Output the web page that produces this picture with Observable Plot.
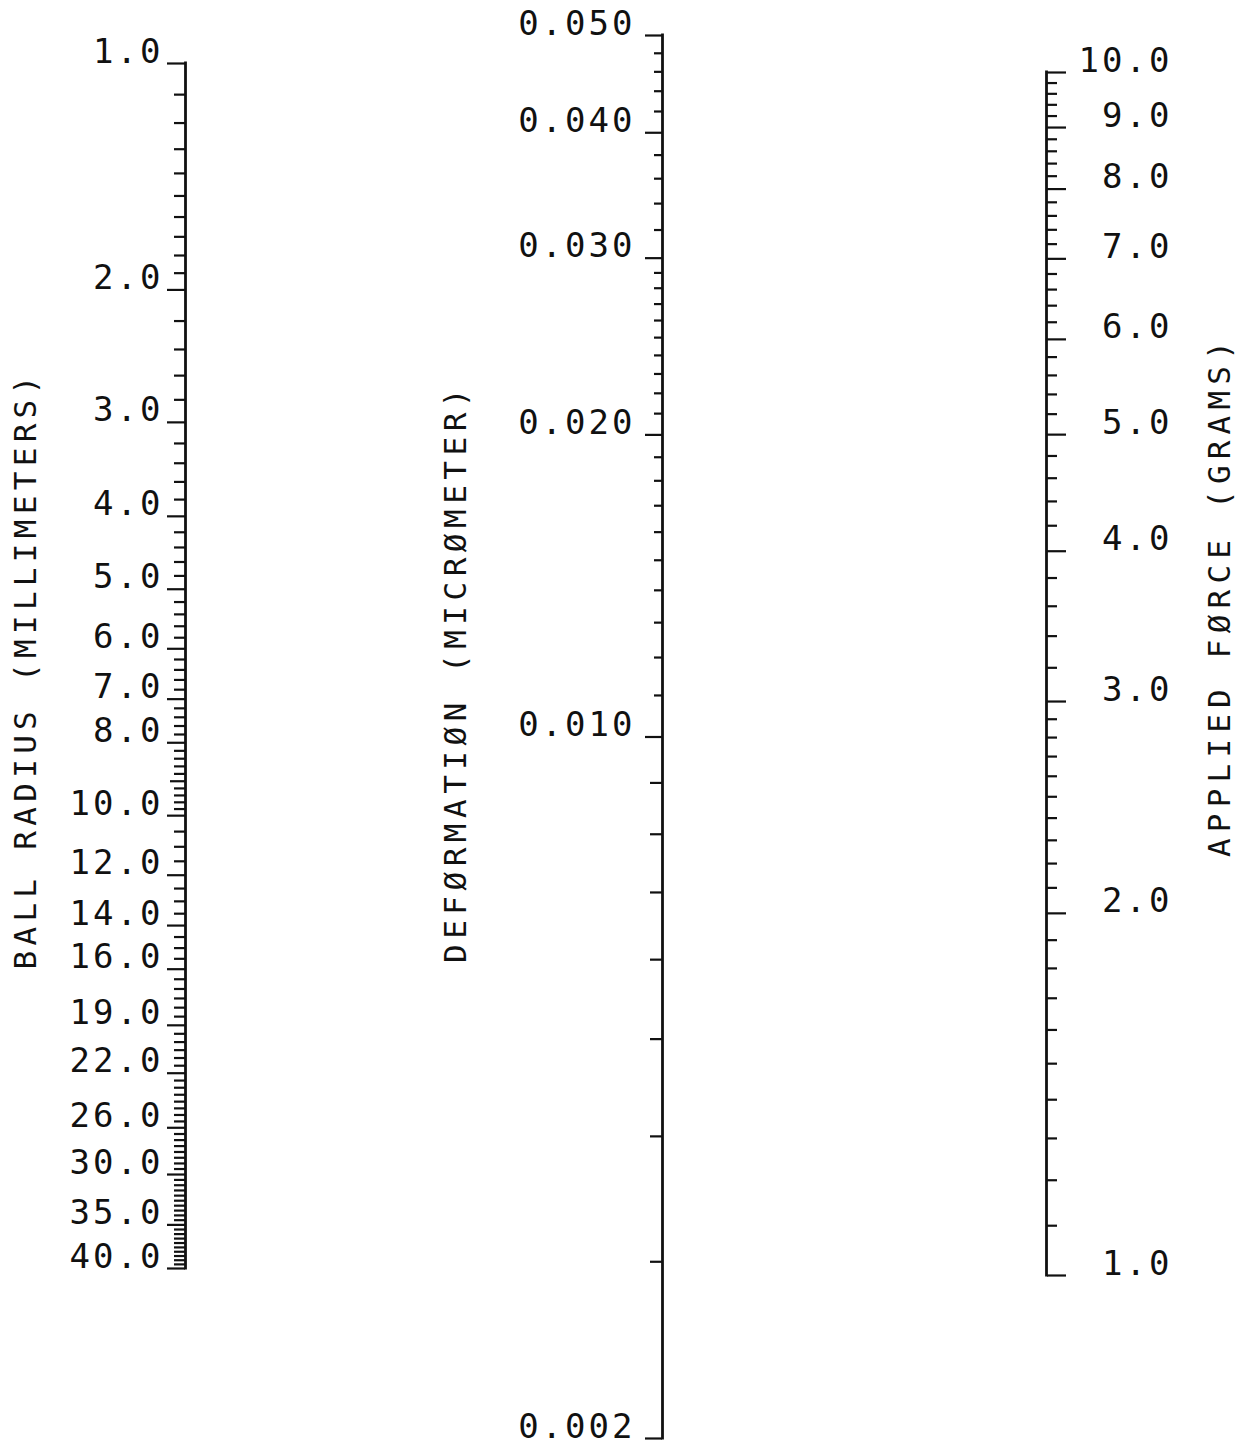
<!DOCTYPE html>
<html><head><meta charset="utf-8">
<script src="https://cdn.jsdelivr.net/npm/d3@7"></script>
<script src="https://cdn.jsdelivr.net/npm/@observablehq/plot@0.6"></script>
<style>
html,body{margin:0;padding:0;background:#fff;}
#chart{position:relative;width:1242px;height:1445px;overflow:hidden;background:#fff;}
#chart svg{position:absolute;left:0;top:0;background:transparent !important;max-width:none !important;overflow:visible;}
</style></head><body><div id="chart"></div>
<script>
// ---- Ball radius scale (millimeters) ----
const radiusExtent = [1, 40];
const radiusLabels = [1, 2, 3, 4, 5, 6, 7, 8, 10, 12, 14, 16, 19, 22, 26, 30, 35, 40];
const radiusMid = [9];
const radiusMinor = [
  1.1, 1.2, 1.3, 1.4, 1.5, 1.6, 1.7, 1.8, 1.9,
  2.2, 2.4, 2.6, 2.8, 3.2, 3.4, 3.6, 3.8, 4.2, 4.4, 4.6, 4.8,
  5.2, 5.4, 5.6, 5.8, 6.2, 6.4, 6.6, 6.8, 7.2, 7.4, 7.6, 7.8,
  8.2, 8.4, 8.6, 8.8, 9.2, 9.4, 9.6, 9.8,
  10.5, 11, 11.5, 12.5, 13, 13.5, 14.5, 15, 15.5,
  16.5, 17, 17.5, 18, 18.5, 19.5, 20, 20.5, 21, 21.5,
  22.5, 23, 23.5, 24, 24.5, 25, 25.5, 26.5, 27, 27.5, 28, 28.5, 29, 29.5,
  30.5, 31, 31.5, 32, 32.5, 33, 33.5, 34, 34.5,
  35.5, 36, 36.5, 37, 37.5, 38, 38.5, 39, 39.5
];

// ---- Deformation scale (micrometer) ----
const deformExtent = [0.002, 0.05];
const deformLabels = [0.05, 0.04, 0.03, 0.02, 0.01, 0.002];
const deformMid = [0.009, 0.008, 0.007, 0.006, 0.005, 0.004, 0.003];
const deformMinor = [
  0.048, 0.046, 0.044, 0.042, 0.038, 0.036, 0.034, 0.032,
  0.029, 0.028, 0.027, 0.026, 0.025, 0.024, 0.023, 0.022, 0.021,
  0.019, 0.018, 0.017, 0.016, 0.015, 0.014, 0.013, 0.012, 0.011
];

// ---- Applied force scale (grams) ----
const forceExtent = [1, 10];
const forceLabels = [10, 9, 8, 7, 6, 5, 4, 3, 2, 1];
const forceMinor = [
  9.8, 9.6, 9.4, 9.2, 8.8, 8.6, 8.4, 8.2, 7.8, 7.6, 7.4, 7.2,
  6.8, 6.6, 6.4, 6.2, 5.8, 5.6, 5.4, 5.2, 4.8, 4.6, 4.4, 4.2,
  3.8, 3.6, 3.4, 3.2,
  2.9, 2.8, 2.7, 2.6, 2.5, 2.4, 2.3, 2.2, 2.1,
  1.9, 1.8, 1.7, 1.6, 1.5, 1.4, 1.3, 1.2, 1.1
];

const titles = {
  radius: "BALL RADIUS (MILLIMETERS)",
  deform: "DEFØRMATIØN (MICRØMETER)",
  force: "APPLIED FØRCE (GRAMS)"
};

const W = 1242, H = 1445;
const FONT = "DejaVu Sans Mono";
const AX = 2.8, TK = 2.2;
const LBL = 34, TTL = 31;
const noText = () => "";

const svgStyle = {background: "transparent", fontFamily: FONT, color: "#111"};

// Left: ball radius
const leftPlot = Plot.plot({
  width: W, height: H,
  marginLeft: 185, marginRight: 1000, marginTop: 63, marginBottom: H - 1268,
  style: svgStyle,
  x: {domain: [0, 1], axis: null},
  y: {type: "log", domain: radiusExtent, reverse: true},
  marks: [
    Plot.ruleX([0], {y1: radiusExtent[0], y2: radiusExtent[1], strokeWidth: AX, strokeLinecap: "square"}),
    Plot.axisY({ticks: radiusMinor, anchor: "left", tickSize: 11, strokeWidth: TK, fill: "none", tickFormat: noText, label: null}),
    Plot.axisY({ticks: radiusMid, anchor: "left", tickSize: 15, strokeWidth: TK, fill: "none", tickFormat: noText, label: null}),
    Plot.axisY({ticks: radiusLabels, anchor: "left", tickSize: 18, strokeWidth: TK, fill: "none", tickFormat: noText, label: null}),
    Plot.text(radiusLabels, {y: d => d, text: d => d.toFixed(1), frameAnchor: "left", textAnchor: "end", lineAnchor: "bottom", dx: -22, dy: -1, fontSize: LBL, fontFamily: FONT, fill: "#111"}),
    Plot.text([titles.radius], {frameAnchor: "left", rotate: -90, textAnchor: "middle", lineAnchor: "middle", dx: -159, dy: 4, fontSize: TTL, fontFamily: FONT, fill: "#111"})
  ]
});

// Middle: deformation
const midPlot = Plot.plot({
  width: W, height: H,
  marginLeft: 662, marginRight: 500, marginTop: 35, marginBottom: H - 1438,
  style: svgStyle,
  x: {domain: [0, 1], axis: null},
  y: {type: "log", domain: deformExtent},
  marks: [
    Plot.ruleX([0], {y1: deformExtent[0], y2: deformExtent[1], strokeWidth: AX, strokeLinecap: "square"}),
    Plot.axisY({ticks: deformMinor, anchor: "left", tickSize: 8, strokeWidth: TK, fill: "none", tickFormat: noText, label: null}),
    Plot.axisY({ticks: deformMid, anchor: "left", tickSize: 12, strokeWidth: TK, fill: "none", tickFormat: noText, label: null}),
    Plot.axisY({ticks: deformLabels, anchor: "left", tickSize: 17, strokeWidth: TK, fill: "none", tickFormat: noText, label: null}),
    Plot.text(deformLabels, {y: d => d, text: d => d.toFixed(3), frameAnchor: "left", textAnchor: "end", lineAnchor: "bottom", dx: -27, dy: -1, fontSize: LBL, fontFamily: FONT, fill: "#111"}),
    Plot.text([titles.deform], {frameAnchor: "left", rotate: -90, textAnchor: "middle", lineAnchor: "middle", dx: -206, dy: -64, fontSize: TTL, fontFamily: FONT, fill: "#111"})
  ]
});

// Right: applied force
const rightPlot = Plot.plot({
  width: W, height: H,
  marginLeft: 900, marginRight: W - 1046, marginTop: 72, marginBottom: H - 1275,
  style: svgStyle,
  x: {domain: [0, 1], axis: null},
  y: {type: "log", domain: forceExtent},
  marks: [
    Plot.ruleX([1], {y1: forceExtent[0], y2: forceExtent[1], strokeWidth: AX, strokeLinecap: "square"}),
    Plot.axisY({ticks: forceMinor, anchor: "right", tickSize: 10, strokeWidth: TK, fill: "none", tickFormat: noText, label: null}),
    Plot.axisY({ticks: forceLabels, anchor: "right", tickSize: 19, strokeWidth: TK, fill: "none", tickFormat: noText, label: null}),
    Plot.text(forceLabels, {y: d => d, text: d => d.toFixed(1), frameAnchor: "right", textAnchor: "end", lineAnchor: "bottom", dx: 126, dy: -1, fontSize: LBL, fontFamily: FONT, fill: "#111"}),
    Plot.text([titles.force], {frameAnchor: "right", rotate: -90, textAnchor: "middle", lineAnchor: "middle", dx: 174, dy: -78, fontSize: TTL, fontFamily: FONT, fill: "#111"})
  ]
});

// letter spacing to mimic the wide pen-plotter lettering
const spacingFor = {};
spacingFor[titles.radius] = "5.3px";
spacingFor[titles.deform] = "5.5px";
spacingFor[titles.force] = "6.2px";
for (const svg of [leftPlot, midPlot, rightPlot]) {
  for (const t of svg.querySelectorAll("text")) {
    const s = t.textContent;
    t.style.letterSpacing = spacingFor[s] || "3px";
  }
}

const chart = document.getElementById("chart");
chart.append(leftPlot, midPlot, rightPlot);
</script></body></html>
